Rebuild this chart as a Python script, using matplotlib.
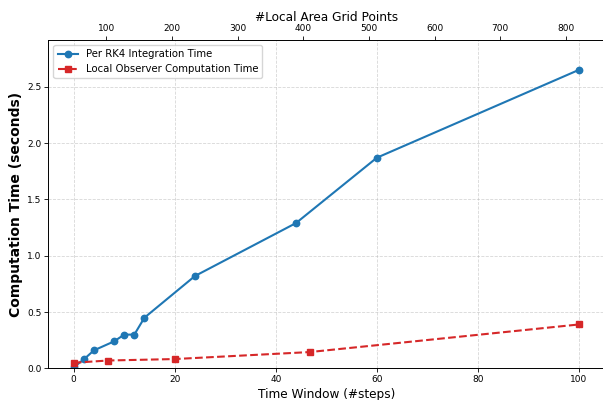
import matplotlib
matplotlib.use("Agg")
import matplotlib.pyplot as plt

# Data
rk4_steps = [0, 2, 4, 8, 10, 12, 14, 24, 44, 60, 100]
rk4_times = [0.01, 0.08, 0.16, 0.24, 0.30, 0.30, 0.45, 0.82, 1.29, 1.87, 2.65]
obs_steps = [0, 6.8, 20, 46.7, 100]
obs_times = [0.05, 0.07, 0.083, 0.145, 0.39]
grid_points_range = [50, 820]

plt.rcParams["axes.linewidth"] = 0.6
plt.rcParams["xtick.major.width"] = 0.6
plt.rcParams["ytick.major.width"] = 0.6

fig, ax = plt.subplots(figsize=(6.03, 4.0), dpi=100)
fig.subplots_adjust(left=0.0803, right=1.002, top=0.9, bottom=0.079)

ax.plot(rk4_steps, rk4_times, color="#1f77b4", marker="o", linestyle="-",
        linewidth=1.5, markersize=4.6, label="Per RK4 Integration Time")
ax.plot(obs_steps, obs_times, color="#d62728", marker="s", linestyle="--",
        linewidth=1.5, markersize=4.6, label="Local Observer Computation Time")

ax.set_ylim(0, max(rk4_times) * 1.1)
ax.set_xlabel("Time Window (#steps)", fontsize=8.7, labelpad=2.5)
ax.set_ylabel("Computation Time (seconds)", fontsize=10, fontweight="bold", labelpad=3)
ax.grid(True, linestyle="--", linewidth=0.6, alpha=0.5)
ax.tick_params(labelsize=6.5, length=2.8, pad=2.2)
ax.legend(loc="upper left", fontsize=7.3)

ax2 = ax.twiny()
span = grid_points_range[1] - grid_points_range[0]
ax2.set_xlim(grid_points_range[0] - 0.05 * span, grid_points_range[1] + 0.05 * span)
ax2.set_xlabel("#Local Area Grid Points", fontsize=8.7, labelpad=2.5)
ax2.tick_params(labelsize=6.5, length=2.8, pad=2.2)

fig.savefig("out.png", dpi=100)
